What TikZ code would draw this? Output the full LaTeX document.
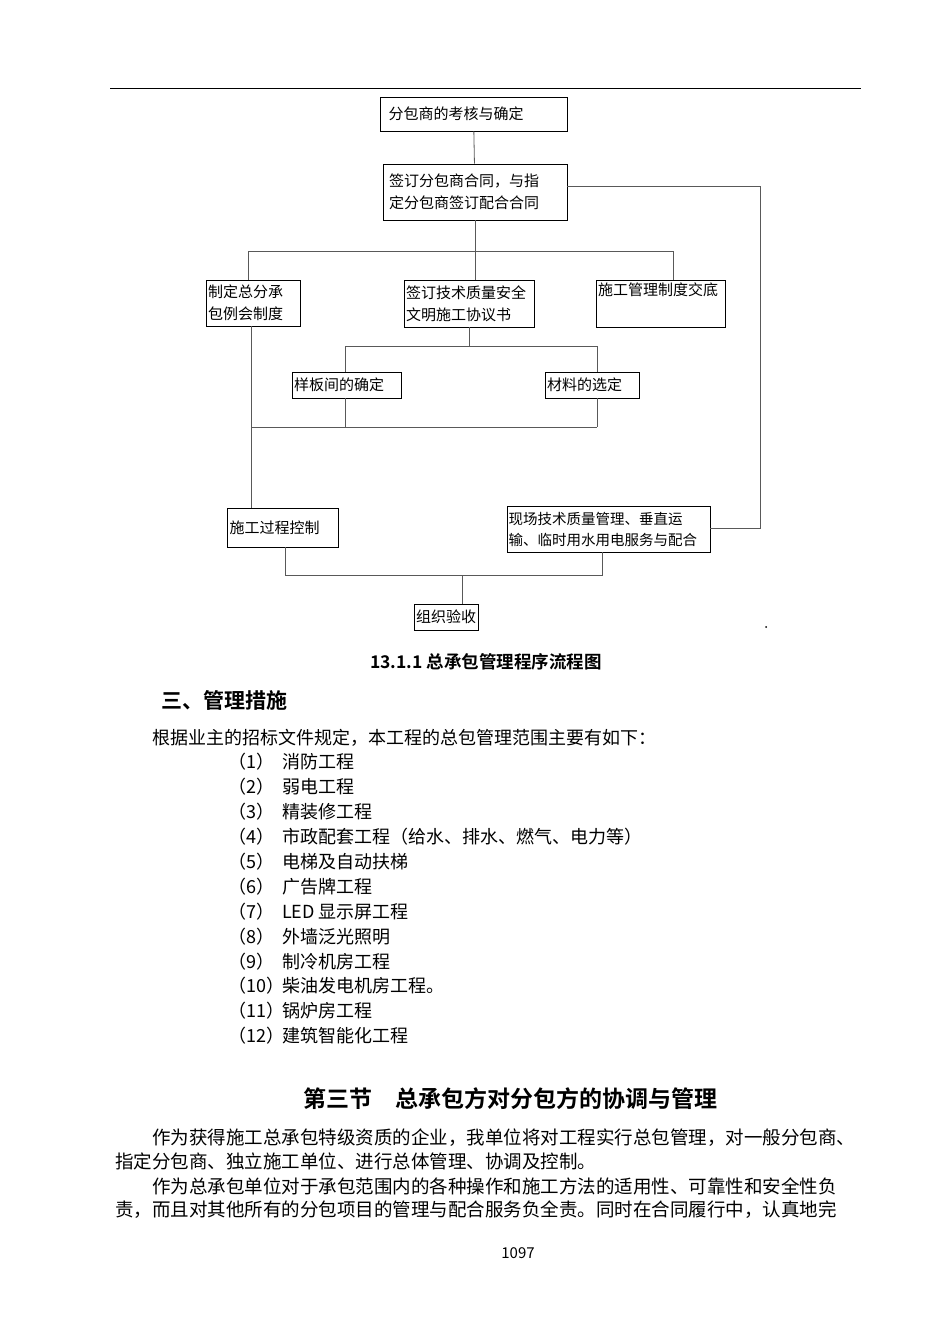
\documentclass[tikz,border=0pt]{standalone}
\usepackage{fontspec}
\setmainfont{Noto Sans CJK SC}
\newfontfamily\cjkb{Noto Sans CJK SC Bold}
\XeTeXlinebreaklocale "zh"
\XeTeXlinebreakskip=0pt plus 3pt
\begin{document}
\begin{tikzpicture}[x=1pt,y=-1pt,
  box/.style={draw,thick,inner sep=2pt,font=\fontsize{15}{22}\selectfont,align=left},
  ln/.style={draw,gray!70!black,thick},
  body/.style={anchor=west,inner sep=0pt,font=\fontsize{18}{20}\selectfont},
  par/.style={anchor=west,inner sep=0pt,font=\fontsize{18.5}{20}\selectfont}]
\useasboundingbox (0,0) rectangle (950,1344);
\draw[thin] (110,88) -- (861,88);
% boxes
\node[box,minimum width=187,minimum height=34,text width=170] (A) at (473.5,114) {分包商的考核与确定};
\node[box,minimum width=184,minimum height=56,text width=172] (B) at (475,192) {签订分包商合同，与指\\定分包商签订配合合同};
\node[box,minimum width=94,minimum height=46,text width=90] (C) at (253,303) {制定总分承\\包例会制度};
\node[box,minimum width=130,minimum height=47,text width=126] (D) at (469,303.5) {签订技术质量安全\\文明施工协议书};
\node[box,minimum width=129,minimum height=47,text width=125] (E) at (660.5,303.5) {施工管理制度交底\\\strut};
\node[box,minimum width=109,minimum height=26,text width=105] (F) at (346.5,385) {样板间的确定};
\node[box,minimum width=94,minimum height=26,text width=90] (G) at (592,385) {材料的选定};
\node[box,minimum width=111,minimum height=39,text width=107] (H) at (283,527.5) {施工过程控制};
\node[box,minimum width=203,minimum height=46,text width=200,inner sep=1pt,font=\fontsize{14.5}{21}\selectfont] (I) at (608.5,529) {现场技术质量管理、垂直运\\输、临时用水用电服务与配合};
\node[box,minimum width=64,minimum height=26,text width=60] (J) at (446,617) {组织验收};
% connectors
\coordinate (t1) at (248,251); \coordinate (t2) at (673,251);
\draw[ln] (A) -- (B);
\draw[ln] (B.south) -- (B.south|-t1);
\draw[ln] (t1) -- (t2);
\draw[ln] (t1) -- (t1|-C.north);
\draw[ln] (B.south|-t1) -- (B.south|-D.north);
\draw[ln] (t2) -- (t2|-E.north);
\coordinate (m1) at (345,346); \coordinate (m2) at (597,346);
\draw[ln] (D.south) -- (D.south|-m1);
\draw[ln] (m1) -- (m2);
\draw[ln] (m1) -- (m1|-F.north);
\draw[ln] (m2) -- (m2|-G.north);
\coordinate (b1) at (251,427); \coordinate (b2) at (597,427);
\draw[ln] (b1) -- (b2);
\draw[ln] (m1|-F.south) -- (m1|-b1);
\draw[ln] (m2|-G.south) -- (b2);
\draw[ln] (251,326) -- (251,508);
\coordinate (r1) at (760,186);
\draw[ln] (B.east|-r1) -- (r1) -- (760,528) -- (I.east|-,528);
\coordinate (k1) at (285,575); \coordinate (k2) at (602,575);
\draw[ln] (k1|-H.south) -- (k1) -- (k2) -- (k2|-I.south);
\draw[ln] (462,575) -- (462,604);
\fill (766,627) circle (1);
% text
\node[font=\cjkb\fontsize{17.5}{18}\selectfont] (cap) at (486,662) {13.1.1 总承包管理程序流程图};
\node[anchor=west,font=\cjkb\fontsize{21}{24}\selectfont] (h1) at (158,700) {三、管理措施};
\node[body] (p0) at (152,738) {根据业主的招标文件规定，本工程的总包管理范围主要有如下：};
\foreach \n/\t [count=\i from 0] in {1/消防工程,2/弱电工程,3/精装修工程,4/市政配套工程（给水、排水、燃气、电力等）,5/电梯及自动扶梯,6/广告牌工程,7/LED 显示屏工程,8/外墙泛光照明,9/制冷机房工程,10/柴油发电机房工程。,11/锅炉房工程,12/建筑智能化工程}{
  \node[body] (n\n) at (228,762+\i*24.9) {（\n）};
  \node[body] (t\n) at (282,762+\i*24.9) {\t};
}
\node[font=\cjkb\fontsize{23}{24}\selectfont] (h2) at (510,1099) {第三节\quad 总承包方对分包方的协调与管理};
\node[par] (q1) at (152,1138) {\hbox to 708pt{作为获得施工总承包特级资质的企业，我单位将对工程实行总包管理，对一般分包商、}};
\node[par] (q2) at (115,1161) {指定分包商、独立施工单位、进行总体管理、协调及控制。};
\node[par] (q3) at (152,1186) {\hbox to 708pt{作为总承包单位对于承包范围内的各种操作和施工方法的适用性、可靠性和安全性负}};
\node[par] (q4) at (115,1210) {\hbox to 745pt{责，而且对其他所有的分包项目的管理与配合服务负全责。同时在合同履行中，认真地完}};
\node[font=\fontsize{15}{17}\selectfont] (pg) at (518,1253) {1097};
\end{tikzpicture}
\end{document}
